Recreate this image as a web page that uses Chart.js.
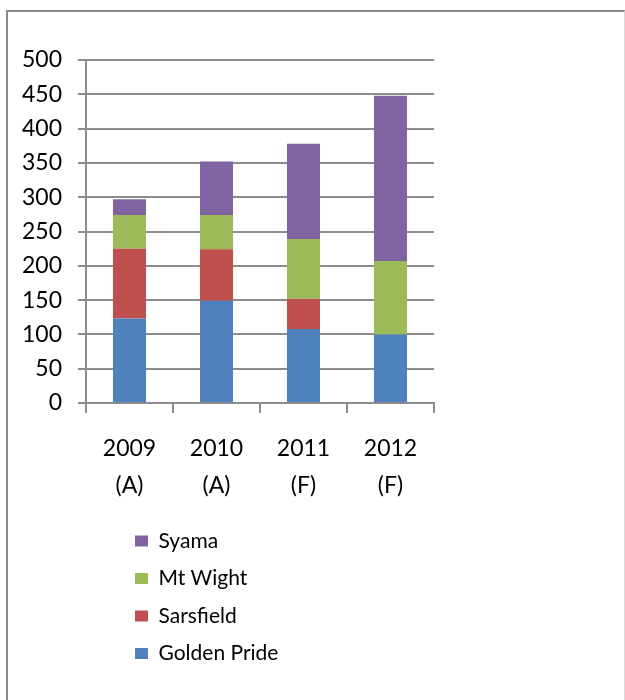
<!DOCTYPE html>
<html>
<head>
<meta charset="utf-8">
<script src="https://cdn.jsdelivr.net/npm/chart.js@4/dist/chart.umd.min.js"></script>
<style>
    body { margin: 0; background: #fff; }
    .frame {
        position: absolute; left: 6px; top: 10px; width: 616px; height: 700px;
        border-left: 2px solid #8a8a8a; border-top: 2px solid #8a8a8a;
        border-right: 1px solid #d9d9d9;
    }
    #chart { position: absolute; left: 0; top: 0; }
</style>
</head>
<body>
<div class="frame"></div>
<canvas id="chart" width="625" height="700"></canvas>
<script>
// Chart data
const years = [["2009", "(A)"], ["2010", "(A)"], ["2011", "(F)"], ["2012", "(F)"]];
const goldenPride = [123, 149, 108, 100];
const sarsfield = [102, 75, 44, 0];
const mtWight = [49, 50, 87, 107];
const syama = [23, 78, 139, 241];

const gridColor = "#8c8c8c";
const fontName = "Lato";

// put the legend list under the plot (a right legend is moved after layout)
const legendPlace = {
    id: "legendPlace",
    afterLayout(chart) {
        const lg = chart.legend;
        lg.left = 118.5;
        lg.right = 625;
        lg.top = 514;
        lg.bottom = 700;
    }
};

const ctx = document.getElementById("chart");
new Chart(ctx, {
    type: "bar",
    data: {
        labels: years,
        datasets: [
            { label: "Golden Pride", data: goldenPride, backgroundColor: "#4F81BD" },
            { label: "Sarsfield", data: sarsfield, backgroundColor: "#C0504D" },
            { label: "Mt Wight", data: mtWight, backgroundColor: "#9BBB59" },
            { label: "Syama", data: syama, backgroundColor: "#8064A2" }
        ]
    },
    options: {
        responsive: false,
        animation: false,
        layout: { padding: { left: 0, top: 60, right: 190, bottom: 197 } },
        datasets: { bar: { categoryPercentage: 1, barPercentage: 0.38 } },
        scales: {
            x: {
                stacked: true,
                grid: { offset: true, drawOnChartArea: false, tickLength: 10, color: gridColor, lineWidth: 2 },
                border: { color: gridColor, width: 2 },
                ticks: { color: "#000", padding: 17, font: { family: fontName, size: 23, lineHeight: 1.6 } },
                afterFit(scale) { scale.height = 100; }
            },
            y: {
                stacked: true,
                min: 0,
                max: 500,
                grid: { tickLength: 8, color: gridColor, lineWidth: 2 },
                border: { color: gridColor, width: 2 },
                ticks: { stepSize: 50, color: "#000", padding: 16, font: { family: fontName, size: 23 } },
                afterFit(scale) { scale.width = 86; }
            }
        },
        plugins: {
            tooltip: { enabled: false },
            legend: {
                position: "right",
                align: "start",
                reverse: true,
                maxWidth: 1,
                labels: {
                    boxWidth: 13,
                    boxHeight: 11,
                    padding: 16.5,
                    color: "#000",
                    font: { family: fontName, size: 21 }
                }
            }
        }
    },
    plugins: [legendPlace]
});
</script>
</body>
</html>
